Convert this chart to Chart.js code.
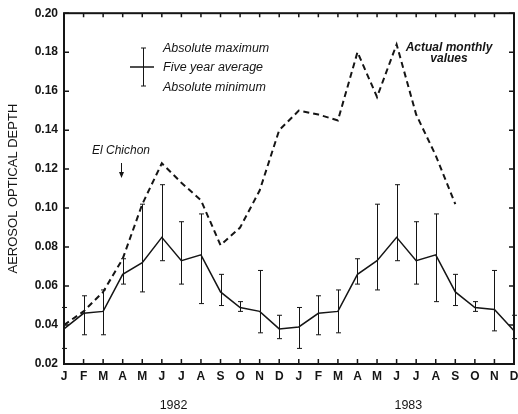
<!DOCTYPE html>
<html>
<head>
<meta charset="utf-8">
<script src="https://cdn.jsdelivr.net/npm/chart.js@4.4.0/dist/chart.umd.min.js"></script>
<style>
  html, body { margin: 0; padding: 0; background: #fff; }
  #wrap { width: 518px; height: 414px; }
</style>
</head>
<body>
<div id="wrap"><canvas id="chart" width="518" height="414"></canvas></div>
<script>
// ─── Data ────────────────────────────────────────────────────────────────────

const months = ['J','F','M','A','M','J','J','A','S','O','N','D',
                'J','F','M','A','M','J','J','A','S','O','N','D'];

// five year average with absolute max / min (same climatology both years)
const fiveYearAvg = [0.038, 0.046, 0.047, 0.066, 0.072, 0.085, 0.073, 0.076, 0.057, 0.049, 0.047, 0.038,
                     0.039, 0.046, 0.047, 0.066, 0.073, 0.085, 0.073, 0.076, 0.057, 0.049, 0.048, 0.037];
const absMax      = [0.049, 0.055, 0.058, 0.074, 0.102, 0.112, 0.093, 0.097, 0.066, 0.052, 0.068, 0.045,
                     0.049, 0.055, 0.058, 0.074, 0.102, 0.112, 0.093, 0.097, 0.066, 0.052, 0.068, 0.045];
const absMin      = [0.028, 0.035, 0.035, 0.061, 0.057, 0.073, 0.061, 0.051, 0.050, 0.047, 0.036, 0.033,
                     0.028, 0.035, 0.036, 0.061, 0.058, 0.073, 0.061, 0.052, 0.050, 0.047, 0.037, 0.033];

// actual monthly values after El Chichon (ends Sept 1983)
const actualMonthly = [0.040, 0.047, 0.057, 0.074, 0.102, 0.123, 0.113, 0.104, 0.081, 0.090, 0.109, 0.140,
                       0.150, 0.148, 0.145, 0.180, 0.157, 0.184, 0.148, 0.127, 0.102, null, null, null];

const yTicks = [0.02, 0.04, 0.06, 0.08, 0.10, 0.12, 0.14, 0.16, 0.18, 0.20];
const years = ['1982', '1983'];
const yearPos = [5.6, 17.6];   // month index under which each year label sits

const FONT = '"Liberation Sans", Arial, sans-serif';
const INK = '#151515';

// ─── Plugins ─────────────────────────────────────────────────────────────────

// error bars, frame and inward tick marks
const frameAndBars = {
  id: 'frameAndBars',
  afterDatasetsDraw(chart) {
    const { ctx, chartArea: a, scales: { x, y } } = chart;
    ctx.save();
    ctx.strokeStyle = INK;

    ctx.lineWidth = 1;
    absMax.forEach((hi, i) => {
      const px = Math.round(x.getPixelForValue(i)) + 0.5;
      const top = y.getPixelForValue(hi);
      const bot = y.getPixelForValue(absMin[i]);
      ctx.beginPath();
      ctx.moveTo(px, top); ctx.lineTo(px, bot);
      ctx.moveTo(px - 2.5, top); ctx.lineTo(px + 2.5, top);
      ctx.moveTo(px - 2.5, bot); ctx.lineTo(px + 2.5, bot);
      ctx.stroke();
    });

    ctx.lineWidth = 1.5;
    ctx.beginPath();
    months.forEach((m, i) => {
      const px = x.getPixelForValue(i);
      ctx.moveTo(px, a.bottom); ctx.lineTo(px, a.bottom - 5);
      ctx.moveTo(px, a.top); ctx.lineTo(px, a.top + 4);
    });
    yTicks.forEach(v => {
      const py = y.getPixelForValue(v);
      ctx.moveTo(a.left, py); ctx.lineTo(a.left + 5, py);
      ctx.moveTo(a.right, py); ctx.lineTo(a.right - 5, py);
    });
    ctx.stroke();

    ctx.lineWidth = 2;
    ctx.strokeRect(a.left, a.top, a.right - a.left, a.bottom - a.top);
    ctx.restore();
  }
};

// legend key, labels and year captions
const notes = {
  id: 'notes',
  afterDraw(chart) {
    const { ctx, scales: { x, y } } = chart;
    ctx.save();
    ctx.fillStyle = INK;
    ctx.strokeStyle = INK;

    // key symbol
    ctx.lineWidth = 1;
    ctx.beginPath();
    ctx.moveTo(143.5, 48); ctx.lineTo(143.5, 86);
    ctx.moveTo(141, 48); ctx.lineTo(146, 48);
    ctx.moveTo(141, 86); ctx.lineTo(146, 86);
    ctx.stroke();
    ctx.lineWidth = 1.5;
    ctx.beginPath();
    ctx.moveTo(130, 67); ctx.lineTo(154, 67);
    ctx.stroke();

    ctx.textBaseline = 'middle';
    ctx.textAlign = 'left';
    ctx.font = 'italic 12.5px ' + FONT;
    ctx.fillText('Absolute maximum', 163, 49);
    ctx.fillText('Five year average', 163, 68);
    ctx.fillText('Absolute minimum', 163, 88);

    ctx.font = 'italic 12px ' + FONT;
    ctx.fillText('El Chichon', 92, 151);
    ctx.lineWidth = 1;
    ctx.beginPath();
    ctx.moveTo(121.5, 163); ctx.lineTo(121.5, 177);
    ctx.stroke();
    ctx.beginPath();
    ctx.moveTo(119, 172); ctx.lineTo(121.5, 178); ctx.lineTo(124, 172);
    ctx.fill();

    ctx.textAlign = 'center';
    ctx.font = 'bold italic 12px ' + FONT;
    ctx.fillText('Actual monthly', 449, 48);
    ctx.fillText('values', 449, 59);

    ctx.font = '12.5px ' + FONT;
    years.forEach((yr, i) => ctx.fillText(yr, x.getPixelForValue(yearPos[i]), 406));
    ctx.restore();
  }
};

// ─── Chart ───────────────────────────────────────────────────────────────────

Chart.defaults.font.family = FONT;
Chart.defaults.color = INK;

new Chart(document.getElementById('chart').getContext('2d'), {
  type: 'line',
  data: {
    labels: months,
    datasets: [
      { label: 'Five year average', data: fiveYearAvg, borderColor: INK, borderWidth: 1.5,
        pointRadius: 0, tension: 0, fill: false },
      { label: 'Actual monthly values', data: actualMonthly, borderColor: INK, borderWidth: 2,
        borderDash: [6, 4], pointRadius: 0, tension: 0, fill: false, spanGaps: false },
    ],
  },
  options: {
    responsive: false,
    animation: false,
    devicePixelRatio: 1,
    layout: { padding: { top: 12, right: 4, left: 0, bottom: 0 } },
    plugins: { legend: { display: false }, tooltip: { enabled: false } },
    scales: {
      x: {
        offset: false,
        grid: { display: false, drawTicks: false },
        border: { display: false },
        ticks: { autoSkip: false, maxRotation: 0, padding: 5, font: { size: 12, weight: 'bold' } },
        afterFit: s => { s.height = 50; s.paddingLeft = 0; s.paddingRight = 0; },
      },
      y: {
        min: 0.02, max: 0.20,
        grid: { display: false, drawTicks: false },
        border: { display: false },
        afterBuildTicks: s => { s.ticks = yTicks.map(v => ({ value: v })); },
        ticks: { padding: 6, font: { size: 12, weight: 'bold' }, callback: v => v.toFixed(2) },
        title: { display: true, text: 'AEROSOL OPTICAL DEPTH', font: { size: 13 }, padding: { top: 6, bottom: 0 } },
        afterFit: s => { s.width = 64; },
      },
    },
  },
  plugins: [frameAndBars, notes],
});
</script>
</body>
</html>
